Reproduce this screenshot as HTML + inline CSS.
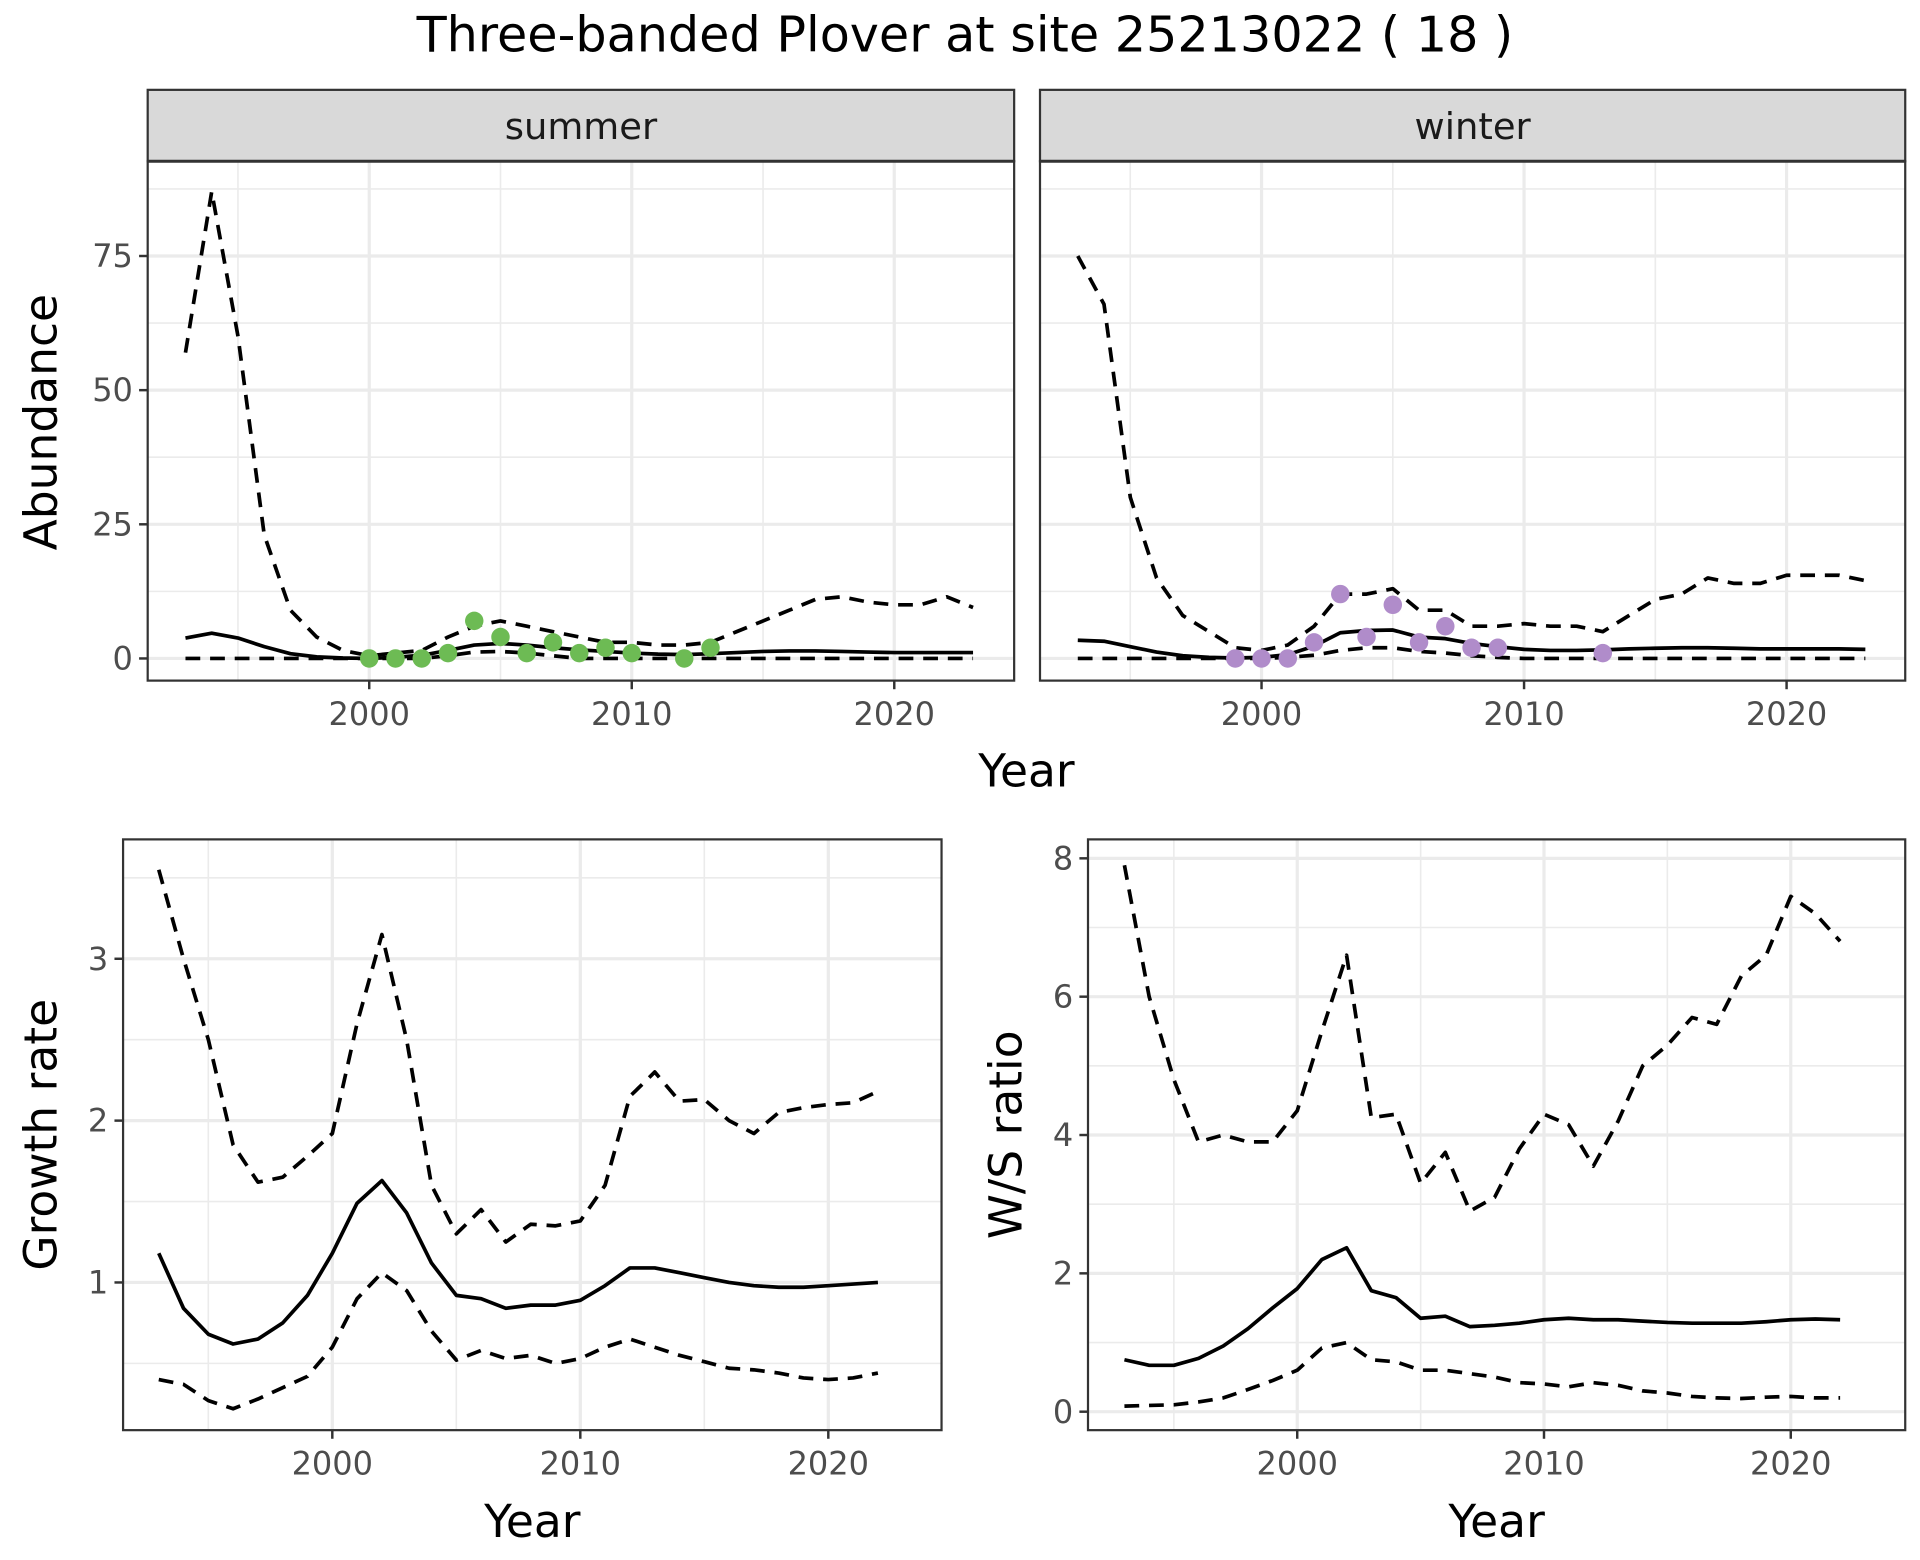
<!DOCTYPE html>
<html><head><meta charset="utf-8"><style>
html,body{margin:0;padding:0;background:#fff;}
svg{display:block;}
text{font-family:"DejaVu Sans","Liberation Sans",sans-serif;}
</style></head><body>
<svg id="s" width="1920" height="1560" viewBox="0 0 1560 1267.5" preserveAspectRatio="none" xmlns="http://www.w3.org/2000/svg"></svg>
<script>
(function(){
const S=document.getElementById('s');let h='';
h+='<rect width="1560" height="1268" fill="#fff"/>';
h+='<text x="784" y="42" font-size="40" text-anchor="middle" fill="#000">Three-banded Plover at site 25213022 ( 18 )</text>';
function range(a,n){return Array.from({length:n},(_,i)=>a+i);}
function line(xs,ys,fx,fy,dash){let d=xs.map((x,i)=>(i?'L':'M')+fx(x).toFixed(1)+','+fy(ys[i]).toFixed(1)).join('');
return '<path d="'+d+'" fill="none" stroke="#000" stroke-width="3" '+(dash?'stroke-dasharray="12,8"':'')+' stroke-linejoin="round"/>';}
function panel(o){
 let g='<rect x="'+o.x0+'" y="'+o.y0+'" width="'+(o.x1-o.x0)+'" height="'+(o.y1-o.y0)+'" fill="#fff"/>';
 o.xmin.forEach(v=>{let x=o.fx(v);g+='<line x1="'+x+'" x2="'+x+'" y1="'+o.y0+'" y2="'+o.y1+'" stroke="#ebebeb" stroke-width="1.3"/>';});
 o.ymin.forEach(v=>{let y=o.fy(v);g+='<line x1="'+o.x0+'" x2="'+o.x1+'" y1="'+y+'" y2="'+y+'" stroke="#ebebeb" stroke-width="1.3"/>';});
 o.xmaj.forEach(v=>{let x=o.fx(v);g+='<line x1="'+x+'" x2="'+x+'" y1="'+o.y0+'" y2="'+o.y1+'" stroke="#ebebeb" stroke-width="2.6"/>';
  g+='<line x1="'+x+'" x2="'+x+'" y1="'+o.y1+'" y2="'+(o.y1+7)+'" stroke="#333" stroke-width="2"/>';
  g+='<text x="'+x+'" y="'+(o.y1+36)+'" font-size="26" text-anchor="middle" fill="#4d4d4d">'+v+'</text>';});
 o.ymaj.forEach(v=>{let y=o.fy(v);g+='<line x1="'+o.x0+'" x2="'+o.x1+'" y1="'+y+'" y2="'+y+'" stroke="#ebebeb" stroke-width="2.6"/>';
  if(o.showY!==false){g+='<line x1="'+(o.x0-7)+'" x2="'+o.x0+'" y1="'+y+'" y2="'+y+'" stroke="#333" stroke-width="2"/>';
  g+='<text x="'+(o.x0-12)+'" y="'+(y+9)+'" font-size="26" text-anchor="end" fill="#4d4d4d">'+v+'</text>';}});
 return g;}
function border(o){return '<rect x="'+o.x0+'" y="'+o.y0+'" width="'+(o.x1-o.x0)+'" height="'+(o.y1-o.y0)+'" fill="none" stroke="#333" stroke-width="1.8"/>';}
const yrs=range(1993,31);
const tfy=v=>535-v*109/25;
function topPanel(x0,x1,x2000,lab,up,mn,lo,pts,col,showY){
 const fx=v=>x2000+(v-2000)*21.33;
 const o={x0:x0,x1:x1,y0:131,y1:553,fx:fx,fy:tfy,xmaj:[2000,2010,2020],xmin:[1995,2005,2015],ymaj:[0,25,50,75],ymin:[12.5,37.5,62.5,87.5],showY:showY};
 let g=panel(o);
 g+='<rect x="'+x0+'" y="73" width="'+(x1-x0)+'" height="58" fill="#d9d9d9" stroke="#333" stroke-width="1.8"/>';
 g+='<line x1="'+x0+'" x2="'+x1+'" y1="131" y2="131" stroke="#333" stroke-width="2.5"/>';
 g+='<text x="'+((x0+x1)/2)+'" y="113" font-size="30" text-anchor="middle" fill="#1a1a1a">'+lab+'</text>';
 g+=line(yrs,up,fx,tfy,true)+line(yrs,lo,fx,tfy,true)+line(yrs,mn,fx,tfy,false);
 pts.forEach(p=>{g+='<circle cx="'+fx(p[0])+'" cy="'+tfy(p[1])+'" r="7.5" fill="'+col+'"/>';});
 return g+border(o);}
const z=()=>yrs.map(()=>0);
let slo=z();[[2003,0.5],[2004,1.2],[2005,1.3],[2006,1],[2007,0.5]].forEach(p=>slo[p[0]-1993]=p[1]);
h+=topPanel(120,824,300,'summer',
[57,87,60,23,9,4,1.5,0.5,1,1.5,4,6,7,6,5,4,3,3,2.5,2.5,3,5,7,9,11,11.5,10.5,10,10,11.5,9.5],
[3.8,4.7,3.8,2.2,0.9,0.3,0.1,0,0.2,0.6,1.5,2.5,2.8,2.5,2,1.6,1.3,1,0.8,0.7,0.9,1.1,1.3,1.4,1.4,1.3,1.2,1.1,1.1,1.1,1.1],
slo,[[2000,0],[2001,0],[2002,0],[2003,1],[2004,7],[2005,4],[2006,1],[2007,3],[2008,1],[2009,2],[2010,1],[2012,0],[2013,2]],'#6dbb54',true);
let wlo=z();[[2001,0.2],[2002,0.6],[2003,1.5],[2004,2],[2005,2],[2006,1.3],[2007,1],[2008,0.5],[2009,0.2]].forEach(p=>wlo[p[0]-1993]=p[1]);
h+=topPanel(845,1548,1025,'winter',
[75,66,30,15,8,5,2,1.5,2.5,6,12,12,13,9,9,6,6,6.5,6,6,5,8,11,12,15,14,14,15.5,15.5,15.5,14.5],
[3.4,3.2,2.2,1.2,0.5,0.2,0.1,0.2,0.7,2.3,4.8,5.2,5.3,4,3.7,2.8,2.2,1.7,1.5,1.5,1.6,1.8,1.9,2,2,1.9,1.8,1.8,1.8,1.8,1.7],
wlo,[[1999,0],[2000,0],[2001,0],[2002,3],[2003,12],[2004,4],[2005,10],[2006,3],[2007,6],[2008,2],[2009,2],[2013,1]],'#b08cca',false);
h+='<text x="834" y="639" font-size="37" text-anchor="middle">Year</text>';
h+='<text transform="translate(46,343) rotate(-90)" font-size="37" text-anchor="middle">Abundance</text>';
const yb=range(1993,30);
function bot(o,up,mn,lo,ylab,ylx){
 let g=panel(o);
 g+=line(yb,up,o.fx,o.fy,true)+line(yb,lo,o.fx,o.fy,true)+line(yb,mn,o.fx,o.fy,false);
 g+=border(o);
 g+='<text x="'+((o.x0+o.x1)/2)+'" y="1249" font-size="37" text-anchor="middle">Year</text>';
 g+='<text transform="translate('+ylx+','+((o.y0+o.y1)/2)+') rotate(-90)" font-size="37" text-anchor="middle">'+ylab+'</text>';
 return g;}
h+=bot({x0:100,x1:765,y0:682,y1:1162,fx:v=>270+(v-2000)*20.15,fy:v=>1042-(v-1)*131.5,xmaj:[2000,2010,2020],xmin:[1995,2005,2015],ymaj:[1,2,3],ymin:[0.5,1.5,2.5,3.5]},
[3.55,3.0,2.5,1.85,1.62,1.65,1.78,1.92,2.6,3.15,2.5,1.6,1.3,1.45,1.25,1.36,1.35,1.38,1.6,2.15,2.3,2.12,2.13,2.0,1.92,2.05,2.08,2.1,2.11,2.18],
[1.18,0.84,0.68,0.62,0.65,0.75,0.92,1.18,1.49,1.63,1.43,1.12,0.92,0.9,0.84,0.86,0.86,0.89,0.98,1.09,1.09,1.06,1.03,1.0,0.98,0.97,0.97,0.98,0.99,1.0],
[0.4,0.37,0.27,0.22,0.28,0.35,0.42,0.6,0.9,1.06,0.95,0.7,0.52,0.58,0.53,0.55,0.5,0.53,0.6,0.65,0.6,0.55,0.51,0.47,0.46,0.44,0.41,0.4,0.41,0.44],'Growth rate',46);
h+=bot({x0:884,x1:1548,y0:682,y1:1162,fx:v=>1054+(v-2000)*20.05,fy:v=>1147-v*56.2,xmaj:[2000,2010,2020],xmin:[1995,2005,2015],ymaj:[0,2,4,6,8],ymin:[1,3,5,7]},
[7.9,6.0,4.8,3.9,4.0,3.9,3.9,4.35,5.5,6.6,4.25,4.3,3.3,3.75,2.9,3.1,3.8,4.3,4.15,3.55,4.2,5.0,5.3,5.7,5.6,6.3,6.6,7.45,7.2,6.8],
[0.75,0.67,0.67,0.77,0.95,1.2,1.5,1.78,2.2,2.37,1.75,1.65,1.35,1.38,1.23,1.25,1.28,1.33,1.35,1.33,1.33,1.31,1.29,1.28,1.28,1.28,1.3,1.33,1.34,1.33],
[0.08,0.09,0.1,0.14,0.2,0.32,0.45,0.6,0.92,1.0,0.75,0.72,0.6,0.6,0.55,0.5,0.42,0.4,0.36,0.42,0.38,0.3,0.27,0.22,0.2,0.19,0.21,0.22,0.2,0.2],'W/S ratio',830);
S.innerHTML=h;
})();
</script>
</body></html>
